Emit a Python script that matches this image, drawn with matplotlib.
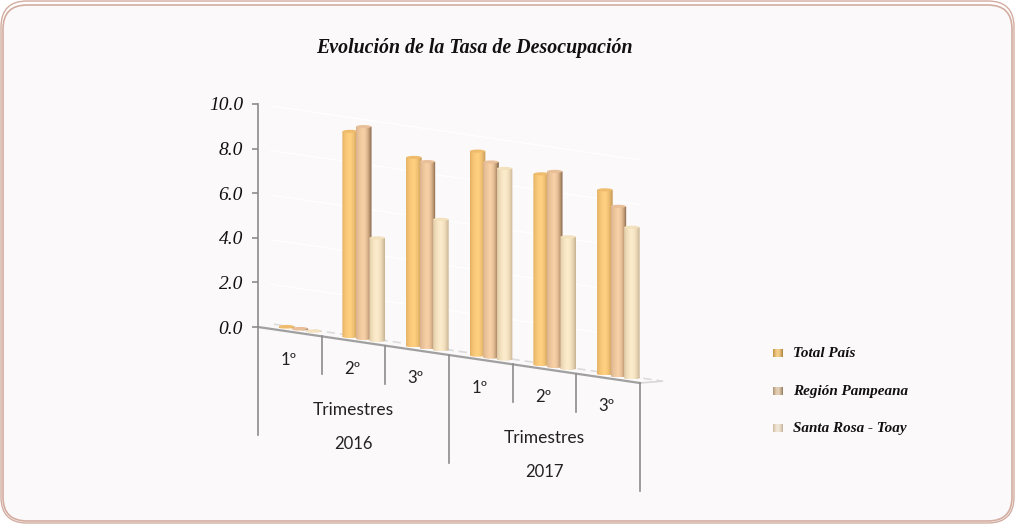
import numpy as np
import matplotlib
matplotlib.use('Agg')
import matplotlib.pyplot as plt
from matplotlib.patches import FancyBboxPatch, Ellipse
from matplotlib.path import Path
from matplotlib.transforms import Affine2D

# data
quarters = ['1º', '2º', '3º', '1º', '2º', '3º']
years = ['2016', '2017']
series_names = ['Total País', 'Región Pampeana', 'Santa Rosa - Toay']
total_pais = [0.03, 9.2, 8.45, 9.15, 8.55, 8.25]
region_pampeana = [0.03, 9.5, 8.35, 8.75, 8.75, 7.6]
santa_rosa = [0.01, 4.6, 5.85, 8.55, 5.9, 6.75]
yticks = [0, 2, 4, 6, 8, 10]

# left edge, middle, right edge of each cylinder
bar_colors = [('#e2ae60', '#ffd080', '#c09350'),
              ('#d8b08a', '#f8d0a6', '#7d5d40'),
              ('#dcc6a2', '#fdeccb', '#c8b290')]
cap_colors = ['#eebc6c', '#e8bf98', '#f3e0bc']
swatch_colors = [('#b98a3c', '#f5cf8a', '#a87c38'),
                 ('#a58a6c', '#e6d2b8', '#8f7558'),
                 ('#c9b59c', '#f3e8d8', '#c2ae96')]
serif = 'Liberation Serif'
W, H = 1015, 524
drop = 0.4186   # floor falls by this many y units per category
bar_w = 0.245
offsets = [-0.212, 0, 0.212]


def to_rgb(c):
    return np.array(matplotlib.colors.to_rgb(c))


def cylinder(cols):
    left, mid, right = [to_rgb(c) for c in cols]
    t = np.linspace(0, 1, 32)[:, None]
    g = np.where(t < 0.42, left + (mid - left) * (t / 0.42) ** 0.6,
                 mid + (right - mid) * ((t - 0.42) / 0.58) ** 2.2)
    return g[None, :, :]


fig = plt.figure(figsize=(W / 100, H / 100), dpi=100, facecolor='white')

# frame
bg = fig.add_axes([0, 0, 1, 1])
bg.set_xlim(0, W)
bg.set_ylim(H, 0)
bg.axis('off')
bg.add_patch(FancyBboxPatch((3, 5), W - 6, H - 8, boxstyle='round,pad=0,rounding_size=24',
                            fc='#fbf9fa', ec='#d3aca0', lw=1.2))
bg.add_patch(FancyBboxPatch((1, 1), W - 2, H - 2, boxstyle='round,pad=0,rounding_size=26',
                            fc='none', ec='#d3aca0', lw=1.0))

ax = fig.add_axes([258 / W, (H - 327) / H, 382 / W, 223 / H])
ax.patch.set_visible(False)

# sloping gridlines and the floor
for v in yticks[1:]:
    ax.plot([0.2, 6], [v - 0.2 * drop, v - 6 * drop], color='white', lw=1.0, zorder=1, clip_on=False)
ax.plot([0.25, 6.35], [0.23 - 0.25 * drop, 0.23 - 6.35 * drop], color='#dcdcdc', lw=1.2,
        ls=(0, (5, 3)), zorder=1, clip_on=False)
ax.plot([6, 6.35], [-6 * drop, 0.23 - 6.35 * drop], color='#d8d8d8', lw=1.2, zorder=1, clip_on=False)
ax.plot([0, 6], [0, -6 * drop], color='#a0a0a0', lw=1.6, zorder=2, clip_on=False)

# dividers below the floor
for i in range(7):
    length = 4.85 if i % 3 == 0 else 1.7
    ax.plot([i, i], [-i * drop, -i * drop - length], color='#8c8c8c', lw=1.2, zorder=2, clip_on=False)

# cylinders
for i in range(len(quarters)):
    vals = [total_pais[i], region_pampeana[i], santa_rosa[i]]
    for j, val in enumerate(vals):
        xc = i + 0.66 + offsets[j]
        y0 = -xc * drop + 0.18
        y1 = y0 + val
        eh = 0.07
        rect = Path.unit_rectangle().transformed(
            Affine2D().scale(bar_w, y1 - y0).translate(xc - bar_w / 2, y0))
        low = Path.unit_circle().transformed(Affine2D().scale(bar_w / 2, eh).translate(xc, y0))
        clip = Path.make_compound_path(rect, low)
        im = ax.imshow(cylinder(bar_colors[j]), extent=[xc - bar_w / 2, xc + bar_w / 2, y0 - eh, y1],
                       aspect='auto', zorder=3 + i + j * 0.1, interpolation='bilinear')
        im.set_clip_box(fig.bbox)
        im.set_clip_path(clip, ax.transData)
        ax.add_patch(Ellipse((xc, y1), bar_w * 0.98, 2 * eh, fc=cap_colors[j], ec='none',
                             zorder=3 + i + j * 0.1, clip_on=False))

ax.set_xlim(0, 6)
ax.set_ylim(0, 10)
ax.set_xticks([])
ax.set_yticks(yticks)
ax.set_yticklabels(['%.1f' % v for v in yticks], fontfamily=serif, fontstyle='italic',
                   fontsize=14, color='#111111')
ax.tick_params(axis='y', length=4.3, width=1.2, color='#8c8c8c', pad=6.5)
for side in ['top', 'right', 'bottom']:
    ax.spines[side].set_visible(False)
ax.spines['left'].set_color('#8c8c8c')
ax.spines['left'].set_linewidth(1.2)

# category labels
for i, q in enumerate(quarters):
    x = i + 0.48
    ax.text(x, -x * drop - 1.26, q, ha='center', va='center', family='Lato', fontsize=12,
            color='#222222', clip_on=False)
for k, year in enumerate(years):
    x = 1.5 + 3 * k
    ax.text(x, -x * drop - 3.09, 'Trimestres', ha='center', va='center', family='Lato', fontsize=12.5,
            color='#222222', clip_on=False)
    ax.text(x, -x * drop - 4.62, year, ha='center', va='center', family='Lato', fontsize=12,
            color='#222222', clip_on=False)

# title
bg.text(474.5, 48, 'Evolución de la Tasa de Desocupación', ha='center', va='center', family=serif,
        fontstyle='italic', fontweight='bold', fontsize=14.3, color='#111111')

# legend
legend_y = [353, 391, 428]
for name, cols, y in zip(series_names, swatch_colors, legend_y):
    sw = fig.add_axes([773 / W, (H - y - 4.5) / H, 9 / W, 9 / H])
    sw.imshow(cylinder(cols), aspect='auto', interpolation='bilinear')
    sw.axis('off')
    bg.text(793, y + 0.5, name, ha='left', va='center', family=serif, fontstyle='italic', fontweight='bold',
            fontsize=10.9, color='#111111')

fig.savefig('out.png', dpi=100)
